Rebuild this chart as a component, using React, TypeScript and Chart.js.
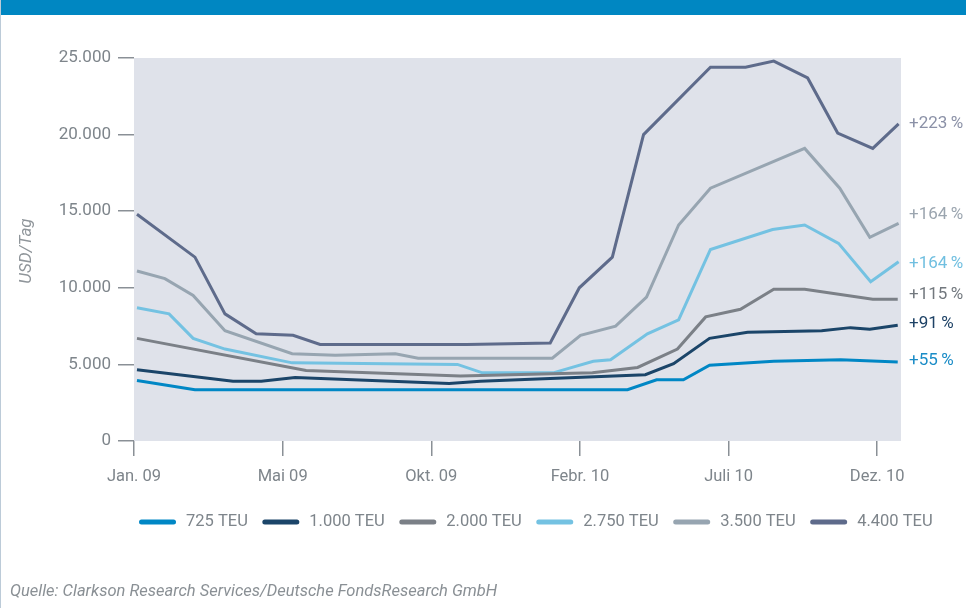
import { useEffect, useRef } from "react";
import { Chart, registerables } from "chart.js";

Chart.register(...registerables);

// Axis: positions on the horizontal scale and the month labels shown there
const tickPositions = [0, 5, 10, 15, 20, 25];
const tickLabels = ["Jan. 09", "Mai 09", "Okt. 09", "Febr. 10", "Juli 10", "Dez. 10"];
const yTicks = [0, 5000, 10000, 15000, 20000, 25000];

const seriesNames = ["725 TEU", "1.000 TEU", "2.000 TEU", "2.750 TEU", "3.500 TEU", "4.400 TEU"];
const changeLabels = ["+55\u2009%", "+91\u2009%", "+115\u2009%", "+164\u2009%", "+164\u2009%", "+223\u2009%"];

// Charter rates in USD per day
const teu725X = [0.1, 2.05, 16.6, 17.58, 18.48, 19.36, 21.52, 23.77, 25.69];
const teu725Y = [3950, 3350, 3350, 4000, 4000, 4950, 5200, 5300, 5150];

const teu1000X = [0.1, 3.33, 4.28, 5.42, 10.6, 11.65, 17.2, 18.15, 19.36, 20.64, 23.13, 24.1, 24.75, 25.69];
const teu1000Y = [4650, 3900, 3900, 4150, 3750, 3900, 4330, 5050, 6700, 7100, 7200, 7400, 7300, 7550];

const teu2000X = [0.1, 5.79, 10.98, 15.42, 16.94, 18.28, 19.23, 20.4, 21.52, 22.56, 24.85, 25.69];
const teu2000Y = [6700, 4600, 4250, 4450, 4800, 6000, 8100, 8600, 9900, 9900, 9250, 9250];

const teu2750X = [0.1, 1.18, 1.99, 3.06, 5.32, 10.88, 11.72, 14.1, 15.45, 16.03, 17.27, 18.32, 19.39, 21.48, 22.56, 23.7, 24.78, 25.72];
const teu2750Y = [8700, 8300, 6700, 6000, 5100, 5000, 4450, 4450, 5200, 5300, 7000, 7900, 12500, 13800, 14100, 12900, 10400, 11700];

const teu3500X = [0.1, 1.04, 1.99, 3.06, 5.32, 6.77, 8.79, 9.56, 14.07, 15.02, 16.2, 17.24, 18.32, 19.39, 22.56, 23.74, 24.75, 25.72];
const teu3500Y = [11100, 10600, 9500, 7200, 5700, 5600, 5700, 5400, 5400, 6900, 7500, 9400, 14100, 16500, 19100, 16500, 13300, 14200];

const teu4400X = [0.1, 2.05, 3.06, 4.11, 5.35, 6.26, 11.2, 14.0, 14.98, 16.09, 17.14, 19.39, 20.57, 21.52, 22.66, 23.67, 24.85, 25.72];
const teu4400Y = [14800, 12000, 8300, 7000, 6900, 6300, 6300, 6400, 10000, 12000, 20000, 24400, 24400, 24800, 23700, 20100, 19100, 20700];

const lineColors = ["#0087c5", "#1b4569", "#7b8087", "#74c2e2", "#97a5b1", "#5e6b8b"];
const labelColors = ["#1a8cc7", "#1e4266", "#72787e", "#70bfe0", "#9ba5af", "#8b91a7"];

const seriesX = [teu725X, teu1000X, teu2000X, teu2750X, teu3500X, teu4400X];
const seriesY = [teu725Y, teu1000Y, teu2000Y, teu2750Y, teu3500Y, teu4400Y];

const FONT = "Roboto, 'DejaVu Sans', sans-serif";
const TEXT_GREY = "#7e858b";

const formatThousands = (v: number) =>
  String(v).replace(/\B(?=(\d{3})+(?!\d))/g, ".");

// Plot area fill
const plotBackground = {
  id: "plotBackground",
  beforeDraw(chart: any) {
    const { ctx, chartArea } = chart;
    ctx.save();
    ctx.fillStyle = "#dfe2ea";
    ctx.fillRect(chartArea.left, chartArea.top, chartArea.right - chartArea.left, chartArea.bottom - chartArea.top);
    ctx.restore();
  },
};

// Rotated unit caption beside the value axis
const unitCaption = {
  id: "unitCaption",
  afterDraw(chart: any) {
    const { ctx } = chart;
    ctx.save();
    ctx.translate(27, 251);
    ctx.rotate(-Math.PI / 2);
    ctx.font = `italic 17px ${FONT}`;
    ctx.fillStyle = "#8f959a";
    ctx.textAlign = "center";
    ctx.textBaseline = "middle";
    ctx.fillText("USD/Tag", 0, 0);
    ctx.restore();
  },
};

// Percentage change written at the end of each line
const endLabelShift = [-1, -2, -5, 2, -9, 0];
const endLabels = {
  id: "endLabels",
  afterDatasetsDraw(chart: any) {
    const { ctx, chartArea } = chart;
    ctx.save();
    ctx.font = `17px ${FONT}`;
    ctx.textAlign = "left";
    ctx.textBaseline = "middle";
    chart.data.datasets.forEach((_: any, i: number) => {
      const meta = chart.getDatasetMeta(i);
      const last = meta.data[meta.data.length - 1];
      ctx.fillStyle = labelColors[i];
      ctx.fillText(changeLabels[i], chartArea.right + 8, last.y + endLabelShift[i]);
    });
    ctx.restore();
  },
};

// Series key below the axis
const seriesKey = {
  id: "seriesKey",
  afterDraw(chart: any) {
    const { ctx } = chart;
    const y = 522;
    let x = 139;
    ctx.save();
    ctx.font = `16.5px ${FONT}`;
    ctx.textBaseline = "middle";
    ctx.textAlign = "left";
    chart.data.datasets.forEach((ds: any) => {
      ctx.strokeStyle = ds.borderColor;
      ctx.lineWidth = 5;
      ctx.lineCap = "round";
      ctx.beginPath();
      ctx.moveTo(x + 2.5, y);
      ctx.lineTo(x + 34.5, y);
      ctx.stroke();
      ctx.fillStyle = TEXT_GREY;
      ctx.fillText(ds.label, x + 47, y);
      x += 47 + ctx.measureText(ds.label).width + 14.5;
    });
    ctx.restore();
  },
};

export default function App() {
  const canvasRef = useRef<HTMLCanvasElement | null>(null);

  useEffect(() => {
    document.body.style.margin = "0";
    const canvas = canvasRef.current;
    if (!canvas) return;

    Chart.defaults.font.family = FONT;
    Chart.defaults.font.size = 16;
    Chart.defaults.color = TEXT_GREY;

    const datasets = seriesNames.map((name, i) => ({
      label: name,
      data: seriesX[i].map((x, k) => ({ x, y: seriesY[i][k] })),
      borderColor: lineColors[i],
      backgroundColor: lineColors[i],
      borderWidth: 3,
      pointRadius: 0,
      tension: 0,
      fill: false,
    }));

    const chart = new Chart(canvas, {
      type: "line",
      data: { datasets },
      options: {
        animation: false,
        responsive: false,
        maintainAspectRatio: false,
        layout: { padding: { left: 0, right: 65, top: 58, bottom: 117 } },
        plugins: {
          legend: { display: false },
          tooltip: { enabled: false },
        },
        scales: {
          x: {
            type: "linear",
            min: 0,
            max: 25.8,
            afterBuildTicks: (axis: any) => {
              axis.ticks = tickPositions.map((v) => ({ value: v }));
            },
            afterFit: (scale: any) => {
              scale.height = 50;
            },
            ticks: {
              padding: 11,
              maxRotation: 0,
              autoSkip: false,
              color: TEXT_GREY,
              font: { size: 16.5 },
              callback: (v: any) => {
                const idx = tickPositions.indexOf(Number(v));
                return idx >= 0 ? tickLabels[idx] : "";
              },
            },
            grid: {
              drawOnChartArea: false,
              drawTicks: true,
              tickLength: 15,
              color: "#8a9096",
              lineWidth: 1.5,
            },
            border: { display: false },
          },
          y: {
            min: 0,
            max: 25000,
            afterBuildTicks: (axis: any) => {
              axis.ticks = yTicks.map((v) => ({ value: v }));
            },
            afterFit: (scale: any) => {
              scale.width = 134;
            },
            ticks: {
              padding: 7,
              color: TEXT_GREY,
              font: { size: 17 },
              callback: (v: any) => formatThousands(Number(v)),
            },
            grid: {
              drawOnChartArea: false,
              drawTicks: true,
              tickLength: 16,
              color: "#8a9096",
              lineWidth: 1.5,
            },
            border: { display: false },
          },
        },
      },
      plugins: [plotBackground, unitCaption, endLabels, seriesKey],
    });

    return () => chart.destroy();
  }, []);

  return (
    <div
      style={{
        position: "relative",
        width: 966,
        height: 608,
        overflow: "hidden",
        background: "#ffffff",
      }}
    >
      <div style={{ position: "absolute", left: 0, top: 0, width: 1, height: 608, background: "#bccbd8" }} />
      <div style={{ position: "absolute", left: 1, top: 0, width: 965, height: 15, background: "#0087c2" }} />
      <canvas ref={canvasRef} width={966} height={608} style={{ position: "absolute", left: 0, top: 0 }} />
      <div
        style={{
          position: "absolute",
          left: 10,
          top: 581,
          fontFamily: FONT,
          fontStyle: "italic",
          fontSize: 16.5,
          lineHeight: "19px",
          color: "#8a9095",
          whiteSpace: "nowrap",
        }}
      >
        Quelle: Clarkson Research Services/Deutsche FondsResearch GmbH
      </div>
    </div>
  );
}
